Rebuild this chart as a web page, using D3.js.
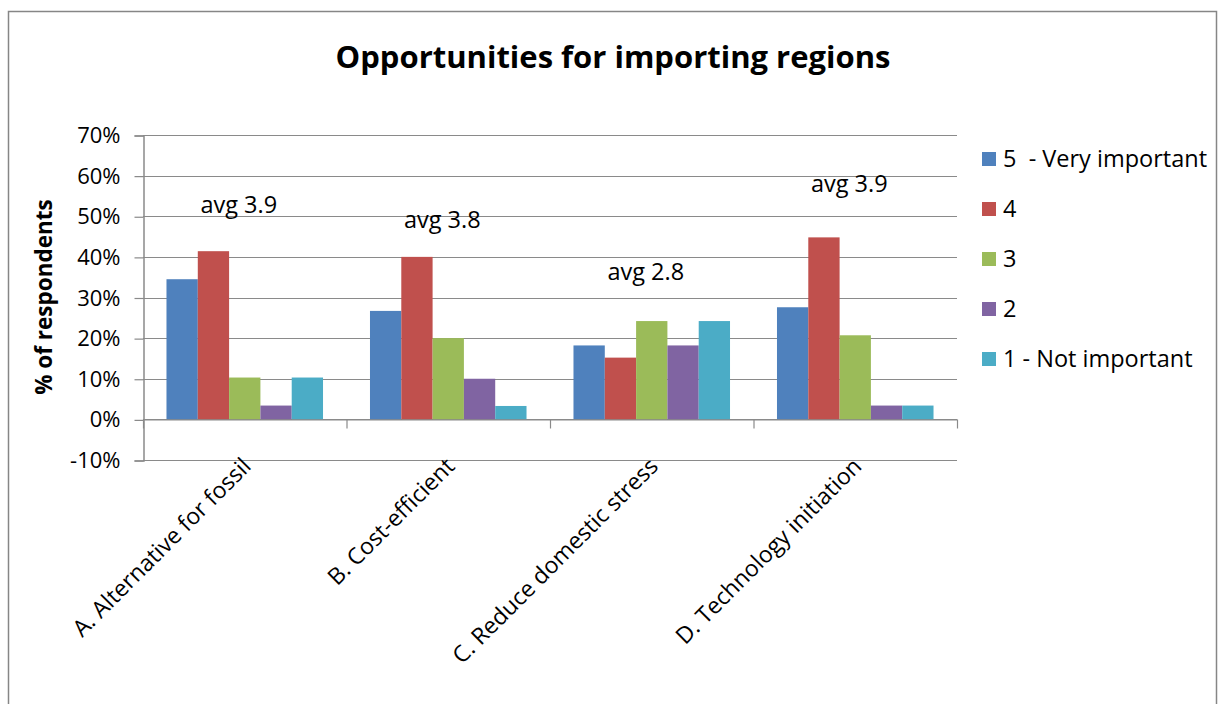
<!DOCTYPE html>
<html><head><meta charset="utf-8">
<script src="https://cdn.jsdelivr.net/npm/d3@7"></script>
<style>
body{margin:0;background:#fff}
text{font-family:"Open Sans","Noto Sans",sans-serif;fill:#000;white-space:pre}
</style>
</head><body><svg id="c" width="1218" height="704"></svg>
<script>
const title = "Opportunities for importing regions";
const yTitle = "% of respondents";
const categories = ["A. Alternative for fossil", "B. Cost-efficient", "C. Reduce domestic stress", "D. Technology initiation"];
const seriesNames = ["5  - Very important", "4", "3", "2", "1 - Not important"];
const s5 = [34.5, 26.7, 18.2, 27.6];
const s4 = [41.4, 40.0, 15.2, 44.8];
const s3 = [10.3, 20.0, 24.2, 20.7];
const s2 = [3.4, 10.0, 18.2, 3.4];
const s1 = [10.3, 3.3, 24.2, 3.4];
const avgLabels = ["avg 3.9", "avg 3.8", "avg 2.8", "avg 3.9"];
const avgLabelLevel = [50.7, 47.0, 34.2, 55.9];
const yTicks = [-10, 0, 10, 20, 30, 40, 50, 60, 70];
const colors = ["#4F81BD", "#C0504D", "#9BBB59", "#8064A2", "#4BACC6"];

const series = [s5, s4, s3, s2, s1];
const svg = d3.select("#c");
const grid = "#8a8a8a";

// outer border
svg.append("rect").attr("x", 8.5).attr("y", 11.5).attr("width", 1208).attr("height", 720)
  .attr("fill", "none").attr("stroke", "#868686").attr("stroke-width", 1.5);

const x0 = d3.scaleBand().domain(categories).range([143, 957]).paddingInner(0).paddingOuter(0);
const x1 = d3.scaleBand().domain(d3.range(seriesNames.length)).range([0, x0.bandwidth()])
  .paddingInner(0).paddingOuter(0.75);
const y = d3.scaleLinear().domain([-10, 70]).range([460, 135]);

// gridlines
svg.append("g").selectAll("line").data(yTicks).join("line")
  .attr("x1", 143).attr("x2", 957)
  .attr("y1", d => Math.round(y(d)) + 0.5).attr("y2", d => Math.round(y(d)) + 0.5)
  .attr("stroke", grid).attr("stroke-width", 1.2);

// y axis
const yAxis = d3.axisLeft(y).tickValues(yTicks).tickFormat(d => d + "%").tickSize(9).tickPadding(14);
const gy = svg.append("g").attr("transform", "translate(143.5,0.5)").call(yAxis);
gy.select(".domain").attr("stroke", grid).attr("stroke-width", 1.5);
gy.selectAll(".tick line").attr("stroke", grid).attr("stroke-width", 1.2);
gy.selectAll(".tick text").attr("font-size", 22).attr("font-family", "Open Sans").attr("fill", "#000");

// bars
const groups = svg.append("g").selectAll("g").data(categories).join("g")
  .attr("transform", d => `translate(${x0(d)},0)`);
groups.selectAll("rect").data((c, ci) => series.map((s, si) => ({si, v: s[ci]}))).join("rect")
  .attr("x", d => x1(d.si)).attr("width", x1.bandwidth())
  .attr("y", d => y(d.v)).attr("height", d => y(0) - y(d.v))
  .attr("fill", d => colors[d.si]);

// category axis at 0
const xAxis = d3.axisBottom(x0).tickSize(0).tickFormat("");
const gx = svg.append("g").attr("transform", `translate(0,${Math.round(y(0)) + 0.5})`).call(xAxis);
gx.select(".domain").attr("stroke", grid).attr("stroke-width", 1.2);
const bounds = [143, ...categories.map(c => x0(c) + x0.bandwidth())];
gx.selectAll(".sep").data(bounds).join("line").attr("class", "sep")
  .attr("x1", d => d + 0.5).attr("x2", d => d + 0.5).attr("y1", 0).attr("y2", 9)
  .attr("stroke", grid).attr("stroke-width", 1.2);

// category labels rotated
svg.append("g").selectAll("text").data(categories).join("text")
  .attr("transform", d => `translate(${x0(d) + x0.bandwidth() / 2 - 4},${y(-10) - 4}) rotate(-45)`)
  .attr("text-anchor", "end").attr("dy", "0.72em")
  .attr("font-size", 23).text(d => d);

// avg labels
svg.append("g").selectAll("text").data(avgLabels).join("text")
  .attr("x", (d, i) => x0(categories[i]) + x0.bandwidth() / 2 - 6)
  .attr("y", (d, i) => y(avgLabelLevel[i]))
  .attr("text-anchor", "middle").attr("font-size", 23.5).text(d => d);

// title
svg.append("text").attr("x", 613).attr("y", 68).attr("text-anchor", "middle")
  .attr("font-size", 31).attr("font-weight", "bold").text(title);

// y title
svg.append("text").attr("transform", "translate(52,297) rotate(-90)").attr("text-anchor", "middle")
  .attr("font-size", 22.5).attr("font-weight", "bold").text(yTitle);

// legend
const leg = svg.append("g").selectAll("g").data(seriesNames).join("g")
  .attr("transform", (d, i) => `translate(982,${159 + i * 50})`);
leg.append("rect").attr("x", 0).attr("y", -7).attr("width", 14).attr("height", 14).attr("fill", (d, i) => colors[i]);
leg.append("text").attr("x", 21).attr("y", 0).attr("dy", "0.36em").attr("font-size", 23.5).text(d => d);
</script>
</body></html>
